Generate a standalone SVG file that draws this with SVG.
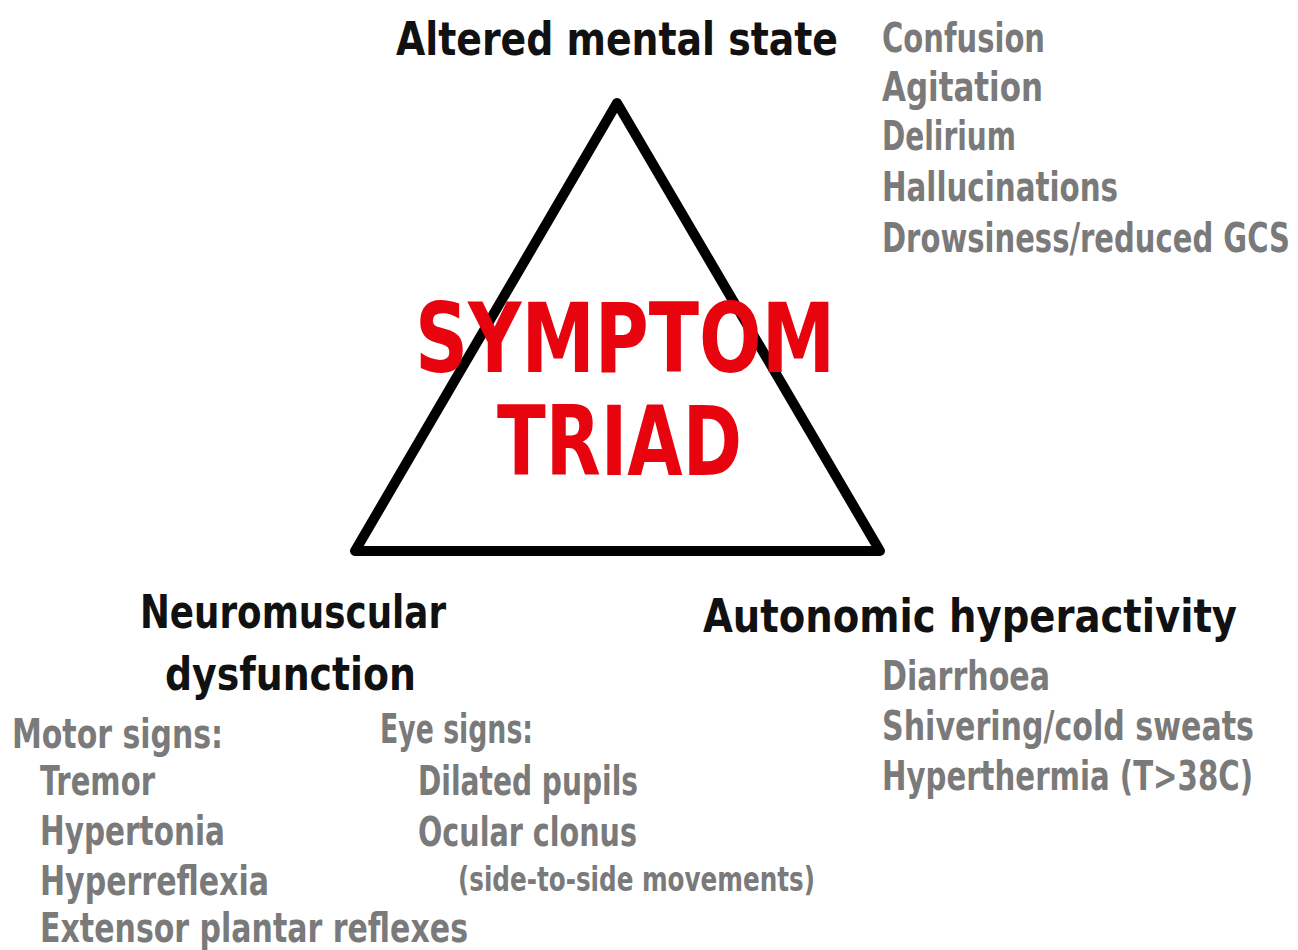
<svg xmlns="http://www.w3.org/2000/svg" width="1298" height="950" viewBox="0 0 1298 950">
<style>
text{font-family:"DejaVu Sans Condensed","DejaVu Sans","Liberation Sans",sans-serif;font-weight:bold}
.h{fill:#111;font-size:46px}
.g{fill:#7a7a7a;font-size:40px}
.e{text-anchor:end}
.s{fill:#7a7a7a;font-size:33px}
.r{fill:#e8040e;font-size:96px}
</style>
<rect width="1298" height="950" fill="#fff"/>
<g id="connectors">
<polygon points="617,103 355,551 880,551" fill="none" stroke="#000" stroke-width="10" stroke-linejoin="round"/>
</g>
<g id="center">
<text class="r" x="415" y="372" textLength="420" lengthAdjust="spacingAndGlyphs">SYMPTOM</text>
<text class="r" x="497" y="475" textLength="245" lengthAdjust="spacingAndGlyphs">TRIAD</text>
</g>
<g id="mental">
<text class="h" x="396" y="55" textLength="442" lengthAdjust="spacingAndGlyphs">Altered mental state</text>
<text class="g" x="882" y="52" textLength="163" lengthAdjust="spacingAndGlyphs">Confusion</text>
<text class="g" x="882" y="101" textLength="161" lengthAdjust="spacingAndGlyphs">Agitation</text>
<text class="g" x="882" y="150" textLength="134" lengthAdjust="spacingAndGlyphs">Delirium</text>
<text class="g" x="882" y="201" textLength="236" lengthAdjust="spacingAndGlyphs">Hallucinations</text>
<text class="g e" x="1290" y="252" textLength="408" lengthAdjust="spacingAndGlyphs">Drowsiness/reduced GCS</text>
</g>
<g id="neuro">
<text class="h" x="140" y="628" textLength="306" lengthAdjust="spacingAndGlyphs">Neuromuscular</text>
<text class="h" x="165" y="690" textLength="251" lengthAdjust="spacingAndGlyphs">dysfunction</text>
<text class="g" x="12" y="748" textLength="211" lengthAdjust="spacingAndGlyphs">Motor signs:</text>
<text class="g" x="40" y="795" textLength="115" lengthAdjust="spacingAndGlyphs">Tremor</text>
<text class="g" x="40" y="845" textLength="185" lengthAdjust="spacingAndGlyphs">Hypertonia</text>
<text class="g" x="40" y="895" textLength="229" lengthAdjust="spacingAndGlyphs">Hyperreflexia</text>
<text class="g" x="40" y="942" textLength="428" lengthAdjust="spacingAndGlyphs">Extensor plantar reflexes</text>
<text class="g" x="380" y="743" textLength="153" lengthAdjust="spacingAndGlyphs">Eye signs:</text>
<text class="g" x="418" y="795" textLength="220" lengthAdjust="spacingAndGlyphs">Dilated pupils</text>
<text class="g" x="418" y="846" textLength="219" lengthAdjust="spacingAndGlyphs">Ocular clonus</text>
<text class="s" x="458" y="891" textLength="357" lengthAdjust="spacingAndGlyphs">(side-to-side movements)</text>
</g>
<g id="autonomic">
<text class="h" x="703" y="632" textLength="534" lengthAdjust="spacingAndGlyphs">Autonomic hyperactivity</text>
<text class="g" x="882" y="690" textLength="168" lengthAdjust="spacingAndGlyphs">Diarrhoea</text>
<text class="g e" x="1254" y="740" textLength="372" lengthAdjust="spacingAndGlyphs">Shivering/cold sweats</text>
<text class="g e" x="1253" y="790" textLength="371" lengthAdjust="spacingAndGlyphs">Hyperthermia (T&gt;38C)</text>
</g>
</svg>
